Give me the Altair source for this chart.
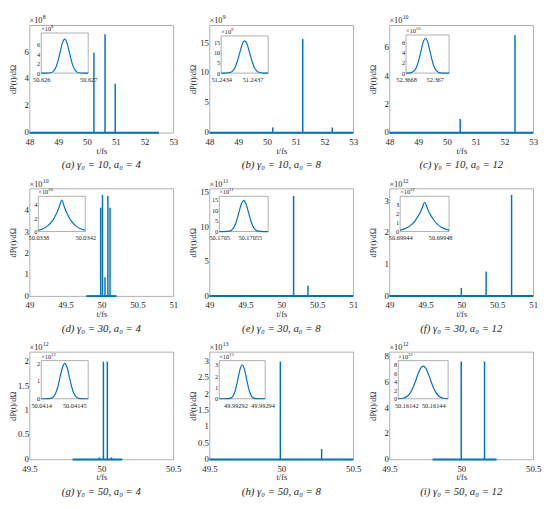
import altair as alt
import pandas as pd

BLUE = "#0072BD"
FONT = "Liberation Serif, Times New Roman, serif"
TXT = "#262626"
W, H = 147, 110

# ---------------- data ----------------
# (a) gamma0=10, a0=4   (x10^8)
A_SPIKE_T = [50.24, 50.6265, 50.98]
A_SPIKE_V = [5.95, 7.33, 3.65]
A_BASE = [48.0, 52.5]
A_INSET_T = [50.626, 50.6261, 50.6262, 50.62625, 50.6263, 50.62635, 50.6264, 50.62645, 50.6265,
             50.62655, 50.6266, 50.62665, 50.6267, 50.62675, 50.6268, 50.6269, 50.627]
A_INSET_V = [0, 0, 0.08, 0.32, 0.97, 2.34, 4.37, 6.35, 7.2, 6.35, 4.37, 2.34, 0.97, 0.32, 0.08, 0, 0]

# (b) gamma0=10, a0=8   (x10^9)
B_SPIKE_T = [50.2, 51.2436, 52.27]
B_SPIKE_V = [0.9, 15.7, 0.9]
B_BASE = [48.0, 53.0]
B_INSET_T = [51.2434, 51.243445, 51.24349, 51.2435125, 51.243535, 51.2435575, 51.24358, 51.2436025,
             51.243625, 51.2436475, 51.24367, 51.2436925, 51.243715, 51.2437375, 51.24376, 51.243805, 51.24385]
B_INSET_V = [0, 0.02, 0.38, 1.18, 3.0, 6.2, 10.3, 14.1, 15.6, 14.1, 10.3, 6.2, 3.0, 1.18, 0.38, 0.02, 0]

# (c) gamma0=10, a0=12  (x10^10)
C_SPIKE_T = [50.46, 52.367]
C_SPIKE_V = [0.97, 6.9]
C_BASE = [48.0, 53.0]
C_INSET_T = [52.36685, 52.3668725, 52.366895, 52.366906, 52.3669175, 52.366929, 52.36694, 52.366951,
             52.366963, 52.366974, 52.366985, 52.366996, 52.367008, 52.367019, 52.36703, 52.367053, 52.367075]
C_INSET_V = [0, 0.04, 0.52, 1.31, 2.69, 4.49, 6.13, 6.8, 6.13, 4.49, 2.69, 1.31, 0.52, 0.16, 0.04, 0, 0]

# (d) gamma0=30, a0=4   (x10^10)
D_SPIKE_T = [49.99, 50.015, 50.05, 50.09, 50.12]
D_SPIKE_V = [4.15, 4.75, 0.88, 4.7, 4.15]
D_BASE = [49.79, 50.21]
D_INSET_T = [50.0338, 50.03384, 50.03388, 50.03392, 50.03394, 50.03396, 50.03398, 50.0340,
             50.03402, 50.03404, 50.03406, 50.03408, 50.03412, 50.03416, 50.0342]
D_INSET_V = [0.2, 0.42, 0.85, 1.6, 2.2, 2.9, 3.8, 4.75, 3.8, 2.9, 2.2, 1.6, 0.85, 0.42, 0.2]

# (e) gamma0=30, a0=8   (x10^11)
E_SPIKE_T = [50.0, 50.1705, 50.37]
E_SPIKE_V = [0.12, 14.5, 1.5]
E_BASE = [49.0, 51.0]
E_INSET_T = [50.1705, 50.170508, 50.170516, 50.17052, 50.170524, 50.170528, 50.170532, 50.170536,
             50.17054, 50.170544, 50.170548, 50.170552, 50.170556, 50.17056, 50.170564, 50.170572, 50.17058]
E_INSET_V = [0, 0, 0.16, 0.64, 1.96, 4.7, 8.8, 12.8, 14.5, 12.8, 8.8, 4.7, 1.96, 0.64, 0.16, 0, 0]

# (f) gamma0=30, a0=12  (x10^12)
F_SPIKE_T = [50.0, 50.345, 50.6995]
F_SPIKE_V = [0.26, 0.78, 3.2]
F_BASE = [49.0, 51.0]
F_INSET_T = [50.69944, 50.6994449, 50.6994498, 50.6994547, 50.6994572, 50.6994596, 50.6994621,
             50.6994645, 50.699467, 50.6994694, 50.6994719, 50.6994743, 50.6994792, 50.6994841, 50.699489]
F_INSET_V = [0.15, 0.32, 0.62, 1.15, 1.55, 2.0, 2.6, 3.2, 2.6, 2.0, 1.55, 1.15, 0.62, 0.32, 0.15]

# (g) gamma0=50, a0=4   (x10^12)
G_SPIKE_T = [49.985, 50.014, 50.0414, 50.07]
G_SPIKE_V = [0.04, 2.0, 2.0, 0.04]
G_BASE = [49.8, 50.145]
G_INSET_T = [50.0414, 50.0414071, 50.0414142, 50.0414178, 50.0414213, 50.0414249, 50.0414284, 50.041432,
             50.0414355, 50.0414391, 50.0414426, 50.0414462, 50.0414497, 50.0414533, 50.0414568, 50.0414639, 50.041471]
G_INSET_V = [0, 0, 0.02, 0.09, 0.27, 0.65, 1.21, 1.76, 2.0, 1.76, 1.21, 0.65, 0.27, 0.09, 0.02, 0, 0]

# (h) gamma0=50, a0=8   (x10^13)
H_SPIKE_T = [49.9929, 50.28]
H_SPIKE_V = [3.0, 0.32]
H_BASE = [49.5, 50.5]
H_INSET_T = [49.992908, 49.9929114, 49.9929148, 49.9929165, 49.9929182, 49.9929199, 49.9929216, 49.9929233,
             49.992925, 49.9929267, 49.9929284, 49.9929301, 49.9929318, 49.9929335, 49.9929352, 49.9929386, 49.992942]
H_INSET_V = [0, 0, 0.01, 0.06, 0.25, 0.75, 1.62, 2.57, 3.0, 2.57, 1.62, 0.75, 0.25, 0.06, 0.01, 0, 0]

# (i) gamma0=50, a0=12  (x10^12)
I_SPIKE_T = [49.9995, 50.1614]
I_SPIKE_V = [7.65, 7.65]
I_BASE = [49.8, 50.245]
I_INSET_T = [50.161414, 50.1614177, 50.1614214, 50.1614233, 50.1614251, 50.161427, 50.1614288, 50.1614307,
             50.1614325, 50.1614344, 50.1614362, 50.1614381, 50.1614399, 50.1614418, 50.1614436, 50.1614473, 50.161451]
I_INSET_V = [0.01, 0.13, 0.77, 1.57, 2.77, 4.33, 5.97, 7.23, 7.7, 7.23, 5.97, 4.33, 2.77, 1.57, 0.77, 0.13, 0.01]

ROW1_XTICKS = [48, 49, 50, 51, 52, 53]
ROW2_XTICKS = [49, 49.5, 50, 50.5, 51]
ROW3_XTICKS = [49.5, 50, 50.5]


def sup_text(s, e, x, y, size, esize, dx, dy):
    df = pd.DataFrame({"s": [s], "e": [e]})
    base = alt.Chart(df).mark_text(align="left", baseline="alphabetic", font=FONT,
                                   fontSize=size, color=TXT).encode(
        x=alt.value(x), y=alt.value(y), text="s:N")
    sup = alt.Chart(df).mark_text(align="left", baseline="alphabetic", font=FONT,
                                  fontSize=esize, color=TXT).encode(
        x=alt.value(x + dx), y=alt.value(y - dy), text="e:N")
    return [base, sup]


def panel(caption, exp, spike_t, spike_v, base, inset_t, inset_v,
          xdom, xticks, ydom, yticks, ixdom, ixticks, iydom, iyticks, box):
    x0, x1, y0, y1 = box
    sp = pd.DataFrame({"t": spike_t, "v": spike_v})
    sp["z"] = 0.0
    bs = pd.DataFrame({"t0": [base[0]], "t1": [base[1]], "z": [0.0]})

    xs = alt.Scale(domain=xdom, nice=False, zero=False)
    ys = alt.Scale(domain=ydom, nice=False, zero=False)
    xa = alt.Axis(values=xticks, format="~f", title="t/fs", labelFlush=False,
                  labelOverlap=False, labelPadding=5, titlePadding=0)
    ya = alt.Axis(values=yticks, format="~f", title="dP(t)/dΩ", labelOverlap=False,
                  labelPadding=1, labelOffset=-1, titlePadding=0, minExtent=12.5, maxExtent=12.5)

    baseline = alt.Chart(bs).mark_rule(color=BLUE, strokeWidth=2).encode(
        x=alt.X("t0:Q", scale=xs, axis=xa), x2="t1:Q",
        y=alt.Y("z:Q", scale=ys, axis=ya))
    spikes = alt.Chart(sp).mark_rule(color=BLUE, strokeWidth=1.5).encode(
        x=alt.X("t:Q", scale=xs, axis=xa),
        y=alt.Y("v:Q", scale=ys, axis=ya), y2="z:Q")
    main = alt.layer(baseline, spikes, *sup_text("×10", exp, 0, -2, 8.5, 6, 13.5, 4))

    ixs = alt.Scale(domain=ixdom, range=[x0, x1], nice=False, zero=False)
    iys = alt.Scale(domain=iydom, range=[y1, y0], nice=False, zero=False)
    ixa = alt.Axis(orient="bottom", offset=-(H - y1), values=ixticks, format="~f", title=None,
                   labelFontSize=6.5, labelPadding=3.5, labelOverlap=False, labelFlush=False, zindex=2)
    iya = alt.Axis(orient="left", offset=-x0, values=iyticks, format="~f", title=None,
                   labelFontSize=6.5, labelPadding=1.5, labelOverlap=False, zindex=2)
    fr = pd.DataFrame({"a": [ixdom[0]], "b": [ixdom[1]], "c": [iydom[0]], "d": [iydom[1]]})
    frame = alt.Chart(fr).mark_rect(fill="white", stroke="#9a9a9a", strokeWidth=0.8).encode(
        x=alt.X("a:Q", scale=ixs, axis=ixa), x2="b:Q",
        y=alt.Y("c:Q", scale=iys, axis=iya), y2="d:Q")
    cv = pd.DataFrame({"t": inset_t, "v": inset_v})
    curve = alt.Chart(cv).mark_line(color=BLUE, strokeWidth=1.2, interpolate="monotone").encode(
        x=alt.X("t:Q", scale=ixs, axis=ixa), y=alt.Y("v:Q", scale=iys, axis=iya))
    inset = alt.layer(frame, curve, *sup_text("×10", exp, x0, y0 - 2, 6.5, 4.8, 10, 3))

    return alt.layer(main, inset).resolve_scale(x="independent", y="independent").properties(
        width=W, height=H,
        title=alt.TitleParams(text=caption, orient="bottom", anchor="middle", font=FONT,
                              fontSize=11, fontStyle="italic", fontWeight="normal",
                              color=TXT, offset=5))


panels = [
    panel("(a)  γ₀ = 10, a₀ = 4", "8", A_SPIKE_T, A_SPIKE_V, A_BASE, A_INSET_T, A_INSET_V,
          [48, 53], ROW1_XTICKS, [0, 8.0], [0, 2, 4, 6],
          [50.626, 50.627], [50.626, 50.627], [0, 8.5], [0, 2, 4, 6], (12, 60, 8, 49)),
    panel("(b)  γ₀ = 10, a₀ = 8", "9", B_SPIKE_T, B_SPIKE_V, B_BASE, B_INSET_T, B_INSET_V,
          [48, 53], ROW1_XTICKS, [0, 18], [0, 5, 10, 15],
          [51.2434, 51.24385], [51.2434, 51.2437], [0, 18], [0, 5, 10, 15], (12, 60, 11, 49)),
    panel("(c)  γ₀ = 10, a₀ = 12", "10", C_SPIKE_T, C_SPIKE_V, C_BASE, C_INSET_T, C_INSET_V,
          [48, 53], ROW1_XTICKS, [0, 7.6], [0, 2, 4, 6],
          [52.36685, 52.367075], [52.36685, 52.367], [0, 7.5], [0, 2, 4, 6], (17, 61, 10, 49)),
    panel("(d)  γ₀ = 30, a₀ = 4", "10", D_SPIKE_T, D_SPIKE_V, D_BASE, D_INSET_T, D_INSET_V,
          [49, 51], ROW2_XTICKS, [0, 5.05], [0, 1, 2, 3, 4],
          [50.0338, 50.0342], [50.0338, 50.0342], [0, 5.3], [0, 2, 4], (9, 57, 8, 44)),
    panel("(e)  γ₀ = 30, a₀ = 8", "11", E_SPIKE_T, E_SPIKE_V, E_BASE, E_INSET_T, E_INSET_V,
          [49, 51], ROW2_XTICKS, [0, 15.6], [0, 5, 10, 15],
          [50.1705, 50.17058], [50.1705, 50.17055], [0, 16.5], [0, 5, 10, 15], (10, 60, 8, 44)),
    panel("(f)  γ₀ = 30, a₀ = 12", "12", F_SPIKE_T, F_SPIKE_V, F_BASE, F_INSET_T, F_INSET_V,
          [49, 51], ROW2_XTICKS, [0, 3.4], [0, 1, 2, 3],
          [50.69944, 50.699489], [50.69944, 50.69948], [0, 3.85], [0, 1, 2, 3], (11, 61, 8, 44)),
    panel("(g)  γ₀ = 50, a₀ = 4", "12", G_SPIKE_T, G_SPIKE_V, G_BASE, G_INSET_T, G_INSET_V,
          [49.5, 50.5], ROW3_XTICKS, [0, 2.2], [0, 0.5, 1, 1.5, 2],
          [50.0414, 50.041471], [50.0414, 50.04145], [0, 2.15], [0, 1, 2], (12, 60, 9, 48)),
    panel("(h)  γ₀ = 50, a₀ = 8", "13", H_SPIKE_T, H_SPIKE_V, H_BASE, H_INSET_T, H_INSET_V,
          [49.5, 50.5], ROW3_XTICKS, [0, 3.3], [0, 0.5, 1, 1.5, 2, 2.5, 3],
          [49.992908, 49.992942], [49.99292, 49.99294], [0, 3.36], [0, 1, 2, 3], (10, 57, 9, 48)),
    panel("(i)  γ₀ = 50, a₀ = 12", "12", I_SPIKE_T, I_SPIKE_V, I_BASE, I_INSET_T, I_INSET_V,
          [49.5, 50.5], ROW3_XTICKS, [0, 8.4], [0, 2, 4, 6, 8],
          [50.161414, 50.161451], [50.16142, 50.16144], [0, 9], [0, 2, 4, 6, 8], (9, 60, 9, 48)),
]

chart = alt.concat(*panels, columns=3, spacing=6).properties(padding=0).configure_view(
    stroke="#9a9a9a", strokeWidth=0.8
).configure_axis(
    domain=False, ticks=False, grid=False,
    labelFont=FONT, labelFontSize=9, labelColor=TXT,
    titleFont=FONT, titleFontSize=8.5, titleFontWeight="normal", titleColor=TXT
)

chart.save("out.html", embed_options={"renderer": "svg", "actions": False})
